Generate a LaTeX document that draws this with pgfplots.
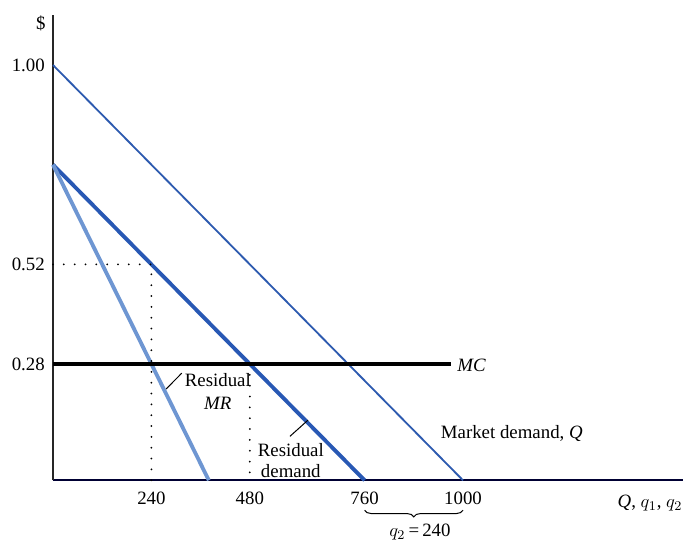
\documentclass[border=0pt]{standalone}
\usepackage{pgfplots}
\pgfplotsset{compat=1.18}
\usepackage{fontspec}
\setmainfont{Liberation Serif}
\usetikzlibrary{decorations.pathreplacing}
\definecolor{mdblue}{RGB}{45,90,175}
\definecolor{rdblue}{RGB}{40,88,180}
\definecolor{mrblue}{RGB}{110,150,210}
\begin{document}
\fontsize{11.3}{13}\selectfont
\begin{tikzpicture}
\begin{axis}[
  scale only axis,
  width=378pt, height=279pt,
  xmin=0, xmax=1537, ymin=0, ymax=1.12,
  axis lines=left,
  axis line style={-},
  x axis line style={line width=1pt, color=black!80!blue},
  y axis line style={line width=0.8pt, color=black!85},
  xtick={240,480,760,1000},
  xticklabels={240,480,760,1000},
  ytick={0.28,0.52,1.00},
  yticklabels={0.28,0.52,1.00},
  major tick length=0pt,
  tick label style={font=\fontsize{11.3}{13}\selectfont},
  xticklabel style={yshift=-3pt},
  yticklabel style={xshift=-1pt},
  clip=false,
]
\addplot[mdblue, line width=1.1pt] coordinates {(0,1) (1000,0)};
\addplot[rdblue, line width=2.3pt] coordinates {(0,0.76) (760,0)};
\addplot[mrblue, line width=2.3pt] coordinates {(0,0.76) (380,0)};
\addplot[black, line width=2.4pt] coordinates {(0,0.28) (970,0.28)};
\addplot[black, line width=1.2pt, line cap=round, dash pattern=on 0pt off 6.5pt] coordinates {(0,0.52) (240,0.52) (240,0)};
\addplot[black, line width=1.2pt, line cap=round, dash pattern=on 0pt off 6.5pt] coordinates {(480,0.28) (480,0)};
\node at (axis cs:-30,1.10) {\$};
\node[anchor=west] at (axis cs:970,0.277) {\textit{MC}};
\node[anchor=west] at (axis cs:930,0.113) {Market demand, \textit{Q}};
\node at (axis cs:402,0.241) {Residual};
\node at (axis cs:402,0.186) {\textit{MR}};
\draw[black, line width=0.6pt] (axis cs:314,0.258) -- (axis cs:276,0.220);
\node at (axis cs:580,0.072) {Residual};
\node at (axis cs:580,0.022) {demand};
\draw[black, line width=0.6pt] (axis cs:578,0.106) -- (axis cs:622,0.145);
\draw[black, line width=0.6pt, decorate, decoration={brace, mirror, amplitude=4pt}] (axis cs:760,-0.072) -- (axis cs:1000,-0.072);
\node at (axis cs:895,-0.125) {$q_2$\,=\,240};
\node at (axis cs:1456,-0.055) {\textit{Q}, $q_1$, $q_2$};
\coordinate (bl) at (axis cs:-129.3,-0.1566);
\coordinate (tr) at (axis cs:1568.3,1.1566);
\end{axis}
\pgfresetboundingbox
\path[use as bounding box] (bl) rectangle (tr);
\end{tikzpicture}
\end{document}
